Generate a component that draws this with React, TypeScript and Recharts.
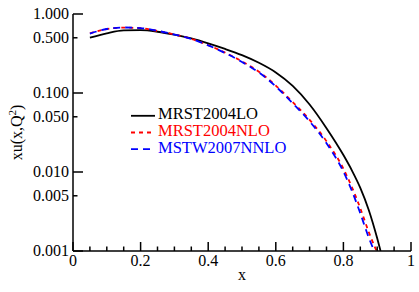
import React from 'react';
import { LineChart, Line, XAxis, YAxis, Legend } from 'recharts';

// ---- data ----
const xLO = [0.05, 0.1, 0.15, 0.2, 0.25, 0.3, 0.35, 0.4, 0.45, 0.5, 0.55, 0.6, 0.65, 0.7, 0.75, 0.8, 0.825, 0.85, 0.875, 0.9, 0.91];
const yLO = [0.501, 0.569, 0.619, 0.624, 0.596, 0.547, 0.49, 0.425, 0.361, 0.301, 0.241, 0.182, 0.123, 0.0716, 0.0359, 0.0164, 0.0105, 0.0063, 0.00331, 0.00145, 0.001];

const xNLO = [0.05, 0.1, 0.15, 0.2, 0.25, 0.3, 0.35, 0.4, 0.45, 0.5, 0.55, 0.6, 0.65, 0.7, 0.75, 0.8, 0.825, 0.85, 0.875, 0.898];
const yNLO = [0.569, 0.646, 0.673, 0.661, 0.61, 0.55, 0.484, 0.403, 0.324, 0.251, 0.186, 0.124, 0.0767, 0.0457, 0.0245, 0.011, 0.00646, 0.00347, 0.00174, 0.001];

const xNNLO = [0.05, 0.1, 0.15, 0.2, 0.25, 0.3, 0.35, 0.4, 0.45, 0.5, 0.55, 0.6, 0.65, 0.7, 0.75, 0.8, 0.825, 0.85, 0.875, 0.891];
const yNNLO = [0.565, 0.646, 0.675, 0.663, 0.612, 0.55, 0.483, 0.401, 0.321, 0.247, 0.182, 0.121, 0.074, 0.0437, 0.0231, 0.0101, 0.0058, 0.003, 0.00148, 0.001];

const seriesNames = ['MRST2004LO', 'MRST2004NLO', 'MSTW2007NNLO'];

const xMajorTicks = [0, 0.2, 0.4, 0.6, 0.8, 1];
const xMajorLabels = ['0', '0.2', '0.4', '0.6', '0.8', '1'];
const xMinorTicks = [0.05, 0.1, 0.15, 0.25, 0.3, 0.35, 0.45, 0.5, 0.55, 0.65, 0.7, 0.75, 0.85, 0.9, 0.95];

const yTicks = [0.001, 0.005, 0.01, 0.05, 0.1, 0.5, 1];
const yTickLabels = ['0.001', '0.005', '0.010', '0.050', '0.100', '0.500', '1.000'];
const yMajorTicks = [0.001, 0.01, 0.1, 1];

// ---- styles ----
const FONT = '"Liberation Serif", "Times New Roman", Times, serif';
const colors = ['#000000', '#ff0000', '#0000ff'];
const dashes = [undefined, '4 4', '7 5'];
const LINE_W = 1.8;
const MAJOR = 9;
const MINOR = 4.5;

const toPoints = (xs: number[], ys: number[]) => xs.map((x, i) => ({ x, y: ys[i] }));
const seriesData = [toPoints(xLO, yLO), toPoints(xNLO, yNLO), toPoints(xNNLO, yNNLO)];
const xAllTicks = [...xMajorTicks, ...xMinorTicks].sort((a, b) => a - b);

const near = (a: number, b: number) => Math.abs(a - b) < 1e-9;
const textStyle = { fontFamily: FONT };

function BottomTick(props: any) {
  const { x, y, payload } = props;
  const idx = xMajorTicks.findIndex((t) => near(t, payload.value));
  const major = idx >= 0;
  return (
    <g>
      <line x1={x} y1={y} x2={x} y2={y - (major ? MAJOR : MINOR)} stroke="#000" strokeWidth={1.5} />
      {major && (
        <text x={x} y={y + 15} textAnchor="middle" fontSize={16} fontFamily={FONT} style={textStyle} fill="#000">
          {xMajorLabels[idx]}
        </text>
      )}
    </g>
  );
}

function TopTick(props: any) {
  const { x, y, payload } = props;
  const major = xMajorTicks.some((t) => near(t, payload.value));
  return <line x1={x} y1={y} x2={x} y2={y + (major ? MAJOR : MINOR)} stroke="#000" strokeWidth={1.5} />;
}

function LeftTick(props: any) {
  const { x, y, payload } = props;
  const idx = yTicks.findIndex((t) => near(t, payload.value));
  const major = yMajorTicks.some((t) => near(t, payload.value));
  return (
    <g>
      <line x1={x} y1={y} x2={x + (major ? MAJOR + 1 : MINOR)} y2={y} stroke="#000" strokeWidth={1.5} />
      <text x={x - 4} y={y + 5} textAnchor="end" fontSize={16} fontFamily={FONT} style={textStyle} fill="#000">
        {yTickLabels[idx]}
      </text>
    </g>
  );
}

function RightTick(props: any) {
  const { x, y, payload } = props;
  const major = yMajorTicks.some((t) => near(t, payload.value));
  return <line x1={x} y1={y} x2={x - (major ? MAJOR + 1 : MINOR)} y2={y} stroke="#000" strokeWidth={1.5} />;
}

function YLabel(props: any) {
  const vb = props.viewBox || { x: 0, y: 14, width: 73, height: 237 };
  const cx = vb.x + 22;
  const cy = vb.y + vb.height / 2;
  return (
    <text
      x={cx}
      y={cy}
      transform={`rotate(-90, ${cx}, ${cy})`}
      textAnchor="middle"
      fontSize={16}
      fontFamily={FONT}
      style={textStyle}
      fill="#000"
    >
      <tspan>xu(x,Q</tspan>
      <tspan dy={-6} fontSize={11}>2</tspan>
      <tspan dy={6}>)</tspan>
    </text>
  );
}

function XLabel(props: any) {
  const vb = props.viewBox || { x: 73, y: 251, width: 338, height: 41 };
  return (
    <text x={vb.x + vb.width / 2} y={vb.y + 29} textAnchor="middle" fontSize={16} fontFamily={FONT} style={textStyle} fill="#000">
      x
    </text>
  );
}

function LegendBox() {
  return (
    <svg width={200} height={60} style={{ display: 'block' }}>
      {seriesNames.map((name, i) => {
        const base = 19.3 + i * 16.7;
        return (
          <g key={name}>
            <line x1={3} x2={27} y1={base - 3.5} y2={base - 3.5} stroke={colors[i]} strokeWidth={LINE_W} strokeDasharray={dashes[i]} />
            <text x={30} y={base} fontSize={16.5} fontFamily={FONT} style={textStyle} fill={colors[i]}>
              {name}
            </text>
          </g>
        );
      })}
    </svg>
  );
}

export default function App() {
  return (
    <div style={{ position: 'absolute', left: 0, top: 0, width: 419, height: 292, background: '#fff' }}>
      <LineChart width={419} height={292} margin={{ top: 14, right: 8, bottom: 0, left: 0 }}>
        <XAxis
          xAxisId="b"
          dataKey="x"
          type="number"
          domain={[0, 1]}
          ticks={xAllTicks}
          interval={0}
          orientation="bottom"
          height={41}
          tickSize={0}
          tickMargin={0}
          tickLine={false}
          axisLine={{ stroke: '#000', strokeWidth: 1.5 }}
          tick={<BottomTick />}
          allowDataOverflow
          label={<XLabel />}
        />
        <XAxis
          xAxisId="t"
          dataKey="x"
          type="number"
          domain={[0, 1]}
          ticks={xAllTicks}
          interval={0}
          orientation="top"
          height={0}
          tickSize={0}
          tickMargin={0}
          tickLine={false}
          axisLine={{ stroke: '#000', strokeWidth: 1.5 }}
          tick={<TopTick />}
          allowDataOverflow
        />
        <YAxis
          yAxisId="l"
          dataKey="y"
          type="number"
          scale="log"
          domain={[0.001, 1]}
          ticks={yTicks}
          interval={0}
          orientation="left"
          width={73}
          tickSize={0}
          tickMargin={0}
          tickLine={false}
          axisLine={{ stroke: '#000', strokeWidth: 1.5 }}
          tick={<LeftTick />}
          allowDataOverflow
          label={<YLabel />}
        />
        <YAxis
          yAxisId="r"
          dataKey="y"
          type="number"
          scale="log"
          domain={[0.001, 1]}
          ticks={yTicks}
          interval={0}
          orientation="right"
          width={0}
          tickSize={0}
          tickMargin={0}
          tickLine={false}
          axisLine={{ stroke: '#000', strokeWidth: 1.5 }}
          tick={<RightTick />}
          allowDataOverflow
        />
        {seriesData.map((d, i) => (
          <Line
            key={seriesNames[i]}
            xAxisId="b"
            yAxisId="l"
            data={d}
            dataKey="y"
            name={seriesNames[i]}
            type="monotone"
            stroke={colors[i]}
            strokeWidth={LINE_W}
            strokeDasharray={dashes[i]}
            dot={false}
            activeDot={false}
            isAnimationActive={false}
          />
        ))}
        <Legend
          layout="vertical"
          align="center"
          verticalAlign="middle"
          wrapperStyle={{ left: 128, top: 100, width: 200, height: 60 }}
          content={() => <LegendBox />}
        />
      </LineChart>
    </div>
  );
}
